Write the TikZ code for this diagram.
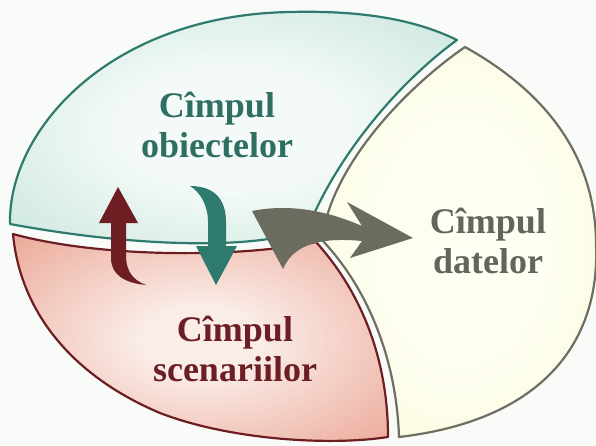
\documentclass[tikz,border=0pt]{standalone}
\usepackage{fontspec}
\setmainfont{Liberation Serif}

\definecolor{bgcol}{RGB}{248,251,248}
\definecolor{objin}{RGB}{244,250,248}
\definecolor{objout}{RGB}{176,218,203}
\definecolor{objline}{RGB}{46,122,110}
\definecolor{objtext}{RGB}{47,110,98}
\definecolor{scnin}{RGB}{250,236,231}
\definecolor{scnout}{RGB}{228,134,112}
\definecolor{scnline}{RGB}{110,30,35}
\definecolor{scntext}{RGB}{107,30,36}
\definecolor{datin}{RGB}{254,254,242}
\definecolor{datout}{RGB}{248,247,198}
\definecolor{datline}{RGB}{110,110,98}
\definecolor{dattext}{RGB}{100,100,90}
\definecolor{grayarrow}{RGB}{107,107,96}

\pgfdeclareradialshading{objshade}{\pgfpoint{0bp}{0bp}}{color(0bp)=(objin); color(12bp)=(objin); color(50bp)=(objout); color(70bp)=(objout)}
\pgfdeclareradialshading{scnshade}{\pgfpoint{0bp}{0bp}}{color(0bp)=(scnin); color(8bp)=(scnin); color(50bp)=(scnout); color(70bp)=(scnout)}
\pgfdeclareradialshading{datshade}{\pgfpoint{0bp}{0bp}}{color(0bp)=(datin); color(15bp)=(datin); color(50bp)=(datout); color(70bp)=(datout)}

\begin{document}
\begin{tikzpicture}[x=1pt, y=-1pt,
    zone/.style={line width=2.2pt, line join=round},
    fieldtext/.style={align=center, inner sep=0pt, font=\fontsize{36}{40}\selectfont\bfseries}]
  \useasboundingbox (0,0) rectangle (596,446);
  \fill[bgcol] (0,0) rectangle (596,446);

  % the three fields
  \shadedraw[zone, shading=objshade, draw=objline]
    (10,224) .. controls (8,130) and (110,15) .. (290,12)
    .. controls (370,10) and (420,22) .. (457,40)
    .. controls (395,85) and (335,160) .. (308,228)
    .. controls (270,248) and (150,250) .. (10,224) -- cycle;
  \shadedraw[zone, shading=scnshade, draw=scnline]
    (13,234) .. controls (100,258) and (240,258) .. (316,242)
    .. controls (355,285) and (388,350) .. (388,437)
    .. controls (330,446) and (230,440) .. (160,413)
    .. controls (70,375) and (20,310) .. (13,234) -- cycle;
  \shadedraw[zone, shading=datshade, draw=datline]
    (465,47) .. controls (560,100) and (596,170) .. (596,245)
    .. controls (600,340) and (545,420) .. (399,437)
    .. controls (396,350) and (362,282) .. (322,240)
    .. controls (330,170) and (400,92) .. (465,47) -- cycle;

  % arrows
  \fill[scnline] (99,223) -- (118,187) -- (138,223) -- (126,223) -- (126,258)
    .. controls (127,272) and (133,280) .. (146,285)
    .. controls (125,283) and (111,275) .. (111,258) -- (111,223) -- cycle;
  \fill[objline] (190,186) .. controls (215,186) and (226,200) .. (226,222)
    -- (226,246) -- (237,246) -- (216,285) -- (196,246) -- (208,246) -- (208,222)
    .. controls (208,205) and (200,192) .. (190,186) -- cycle;
  \fill[grayarrow] (252,211) .. controls (292,203) and (330,212) .. (362,226)
    -- (347,202) -- (413,238) -- (350,258) -- (362,241)
    .. controls (330,238) and (295,240) .. (283,269) -- cycle;

  % labels
  \node[fieldtext, text=objtext] (obj) at (217,125) {Cîmpul\\obiectelor};
  \node[fieldtext, text=scntext] (scn) at (235,349) {Cîmpul\\scenariilor};
  \node[fieldtext, text=dattext] (dat) at (488,241) {Cîmpul\\datelor};
\end{tikzpicture}
\end{document}
